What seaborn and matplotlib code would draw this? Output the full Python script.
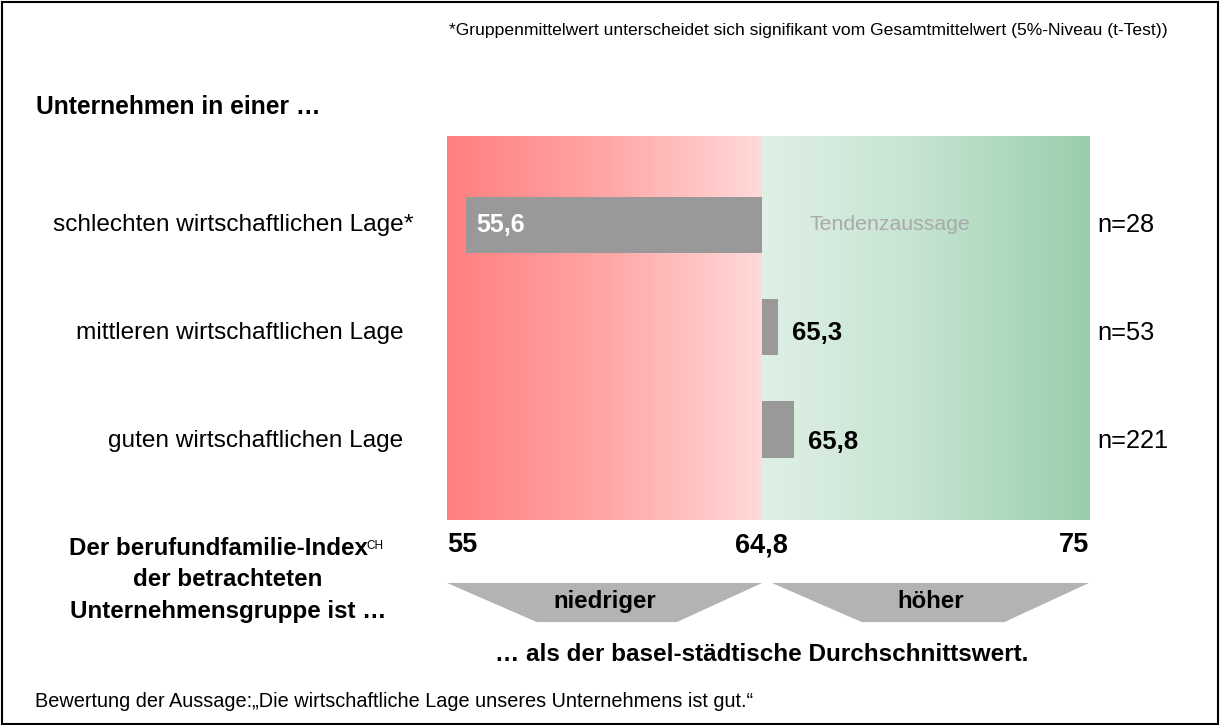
#!/usr/bin/env python3
"""Mittelwerte berufundfamilie-Index nach wirtschaftlicher Lage (Basel-Stadt)."""

import matplotlib.pyplot as plt
import numpy as np
import pandas as pd
import seaborn as sns
from matplotlib.colors import LinearSegmentedColormap
from matplotlib.patches import Polygon, Rectangle
from matplotlib.transforms import blended_transform_factory

# --- data -----------------------------------------------------------------
CATEGORIES = [
    "schlechten wirtschaftlichen Lage*",
    "mittleren wirtschaftlichen Lage",
    "guten wirtschaftlichen Lage",
]
VALUES = [55.6, 65.3, 65.8]
N_LABELS = ["n=28", "n=53", "n=221"]
MEAN = 64.8
SCALE_MIN = 55
SCALE_MAX = 75
TICK_LABELS = ["55", "64,8", "75"]
DIRECTION_LABELS = ["niedriger", "höher"]


def de(v):
    return f"{v:.1f}".replace(".", ",")


sns.set_theme(style="white")
plt.rcParams["font.family"] = ["Liberation Sans", "DejaVu Sans"]
plt.rcParams.update({"text.color": "black", "xtick.color": "black",
                     "ytick.color": "black", "axes.labelcolor": "black"})

df = pd.DataFrame({"Lage": CATEGORIES, "diff": np.array(VALUES) - MEAN})

fig = plt.figure(figsize=(12.22, 7.25), dpi=100)
ax = fig.add_axes([0.3658, 0.2828, 0.5254, 0.5296])

x0, x1 = SCALE_MIN - MEAN, SCALE_MAX - MEAN
y_lim = (2.886, -0.87)

# background: red gradient below the mean, green gradient above
grad = np.linspace(0, 1, 256).reshape(1, -1)
red = LinearSegmentedColormap.from_list("red", ["#FF7F7F", "#FFA6A6", "#FFD9D9"])
green = LinearSegmentedColormap.from_list("green", ["#DFF0E6", "#C4E3CF", "#99CEAC"])
ax.imshow(grad, cmap=red, extent=(x0, 0, y_lim[0], y_lim[1]), aspect="auto", zorder=0)
ax.imshow(grad, cmap=green, extent=(0, x1, y_lim[0], y_lim[1]), aspect="auto", zorder=0)

sns.barplot(
    data=df, x="diff", y="Lage", orient="h", color="#999999",
    saturation=1, width=0.55, linewidth=0, ax=ax, zorder=2,
)
ax.set_xlim(x0, x1)
ax.set_ylim(*y_lim)

for i, (v, d) in enumerate(zip(VALUES, df["diff"])):
    if d < 0:
        ax.annotate(de(v), xy=(d, i), xytext=(7, 0), textcoords="offset points",
                    ha="left", va="center", fontsize=18, fontweight="bold",
                    color="white", zorder=3)
    else:
        ax.annotate(de(v), xy=(d, i), xytext=(10, -4.5 * i), textcoords="offset points",
                    ha="left", va="center", fontsize=18.5, fontweight="bold",
                    color="black", zorder=3)

ax.annotate("Tendenzaussage", xy=(1.5, 0), ha="left", va="center",
            fontsize=15.3, color="#A9A9A9", zorder=3)

# category labels (asterisk hangs past the right-aligned text) and n labels
trans_y = blended_transform_factory(ax.transAxes, ax.transData)
for i, (cat, n) in enumerate(zip(CATEGORIES, N_LABELS)):
    base = cat.rstrip("*")
    ax.annotate(base, xy=(0, i), xycoords=trans_y, xytext=(-31.5, -4 * i),
                textcoords="offset points", ha="right", va="center",
                fontsize=17.6, annotation_clip=False)
    if cat.endswith("*"):
        ax.annotate("*", xy=(0, i), xycoords=trans_y, xytext=(-31.5, -4 * i),
                    textcoords="offset points", ha="left", va="center",
                    fontsize=17.6, annotation_clip=False)
    ax.annotate(n, xy=(1, i), xycoords=trans_y, xytext=(6, -4 * i),
                textcoords="offset points", ha="left", va="center",
                fontsize=18.3, annotation_clip=False)

# axes styling
ax.set_xlabel("")
ax.set_ylabel("")
ax.set_yticks([])
for spine in ax.spines.values():
    spine.set_visible(False)
ax.tick_params(axis="x", length=0, pad=9, labelsize=19.5)
ax.set_xticks([x0, 0, x1])
ax.set_xticklabels(TICK_LABELS, fontweight="bold")
for lbl, ha in zip(ax.get_xticklabels(), ["left", "center", "right"]):
    lbl.set_ha(ha)

# direction arrows below the scale
tr = ax.transAxes
shapes = [
    [(0.0, -0.164), (0.491, -0.164), (0.358, -0.266), (0.14, -0.266)],
    [(0.506, -0.164), (1.0, -0.164), (0.868, -0.266), (0.646, -0.266)],
]
for pts, lab, cx in zip(shapes, DIRECTION_LABELS, [0.245, 0.753]):
    ax.add_patch(Polygon(pts, closed=True, transform=tr, facecolor="#B3B3B3",
                         edgecolor="none", clip_on=False))
    ax.text(cx, -0.213, lab, transform=tr, ha="center", va="center",
            fontsize=17.3, fontweight="bold")

# surrounding texts
fig.text(0.3674, 0.9586,
         "*Gruppenmittelwert unterscheidet sich signifikant vom Gesamtmittelwert (5%-Niveau (t-Test))",
         ha="left", va="center", fontsize=12.6)
fig.text(0.0295, 0.8524, "Unternehmen in einer \u2026", ha="left", va="center",
         fontsize=17.7, fontweight="bold")
fig.text(0.179, 0.2428, "Der berufundfamilie-Index", ha="center", va="center",
         fontsize=17.4, fontweight="bold")
fig.text(0.2995, 0.2475, "CH", ha="left", va="center", fontsize=8.5)
fig.text(0.1866, 0.2, "der betrachteten", ha="center", va="center",
         fontsize=17.4, fontweight="bold")
fig.text(0.1866, 0.1572, "Unternehmensgruppe ist \u2026", ha="center", va="center",
         fontsize=17.4, fontweight="bold")
fig.text(0.6236, 0.0966, "\u2026 als der basel-städtische Durchschnittswert.",
         ha="center", va="center", fontsize=17.5, fontweight="bold")
fig.text(0.0286, 0.0331,
         "Bewertung der Aussage:\u201eDie wirtschaftliche Lage unseres Unternehmens ist gut.\u201c",
         ha="left", va="center", fontsize=14.3)

fig.add_artist(Rectangle((0.002, 0.002), 0.995, 0.995, transform=fig.transFigure,
                         fill=False, edgecolor="black", linewidth=1.5))

fig.savefig("out.png", dpi=100)
plt.close(fig)
